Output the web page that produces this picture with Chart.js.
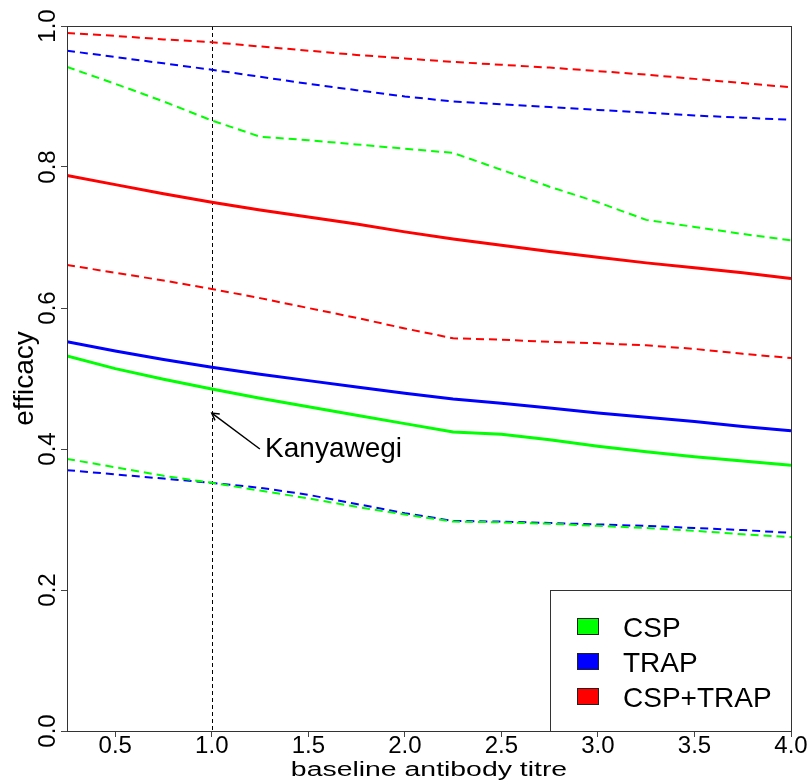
<!DOCTYPE html>
<html><head><meta charset="utf-8">
<script src="https://cdn.jsdelivr.net/npm/chart.js@4.4.1/dist/chart.umd.min.js"></script>
<style>html,body{margin:0;padding:0;background:#fff;} canvas{display:block;}</style>
</head><body>
<canvas id="c" width="808" height="783" style="width:808px;height:783px"></canvas>
<script>
// ---- data ----
const titre = [0.25,0.5,0.75,1.0,1.25,1.5,1.75,2.0,2.25,2.5,2.75,3.0,3.25,3.5,3.75,4.0];

const cspMean  = [0.532,0.514,0.499,0.485,0.472,0.460,0.448,0.436,0.424,0.421,0.413,0.404,0.396,0.389,0.383,0.377];
const cspUpper = [0.942,0.918,0.893,0.866,0.843,0.838,0.832,0.826,0.820,0.796,0.772,0.750,0.725,0.715,0.705,0.696];
const cspLower = [0.386,0.374,0.362,0.352,0.341,0.330,0.318,0.307,0.297,0.296,0.294,0.291,0.288,0.284,0.279,0.275];

const trapMean  = [0.552,0.539,0.527,0.516,0.506,0.497,0.488,0.479,0.471,0.465,0.458,0.451,0.445,0.439,0.432,0.426];
const trapUpper = [0.965,0.956,0.947,0.938,0.928,0.918,0.909,0.900,0.893,0.889,0.885,0.881,0.877,0.873,0.870,0.867];
const trapLower = [0.370,0.364,0.358,0.352,0.345,0.335,0.322,0.309,0.298,0.297,0.295,0.293,0.291,0.288,0.285,0.281];

const bothMean  = [0.788,0.775,0.762,0.750,0.739,0.729,0.719,0.708,0.698,0.689,0.680,0.672,0.664,0.657,0.650,0.642];
const bothUpper = [0.990,0.986,0.981,0.977,0.971,0.965,0.959,0.954,0.949,0.945,0.941,0.936,0.931,0.925,0.919,0.913];
const bothLower = [0.661,0.650,0.639,0.627,0.614,0.600,0.586,0.571,0.557,0.555,0.552,0.550,0.547,0.542,0.535,0.529];

const seriesNames = ['CSP','TRAP','CSP+TRAP'];
const xTicks = [0.5,1.0,1.5,2.0,2.5,3.0,3.5,4.0];
const xTickLabels = ['0.5','1.0','1.5','2.0','2.5','3.0','3.5','4.0'];
const yTicks = [0.0,0.2,0.4,0.6,0.8,1.0];
const yTickLabels = ['0.0','0.2','0.4','0.6','0.8','1.0'];
const xTitle = 'baseline antibody titre';
const yTitle = 'efficacy';
const markerX = 1.0;
const markerLabel = 'Kanyawegi';
const arrowTip = [1.0, 0.451];
const arrowTail = [1.249, 0.400];
const labelPos = [1.276, 0.389];

// ---- styles ----
const GREEN = '#00FF00', BLUE = '#0000FF', RED = '#FF0000';
const colors = [GREEN, BLUE, RED];
const FONT = '"Liberation Sans", Arial, Helvetica, sans-serif';

function pts(ys){ return titre.map((x,i)=>({x:x, y:ys[i]})); }
function solid(label, ys, c){ return {label, data: pts(ys), borderColor:c, backgroundColor:c, borderWidth:3, pointRadius:0, fill:false, tension:0}; }
function dashed(label, ys, c){ return {label, data: pts(ys), borderColor:c, backgroundColor:c, borderWidth:2, borderDash:[8,5], pointRadius:0, fill:false, tension:0}; }

const datasets = [
  dashed('CSP upper', cspUpper, GREEN),
  dashed('CSP lower', cspLower, GREEN),
  dashed('TRAP upper', trapUpper, BLUE),
  dashed('TRAP lower', trapLower, BLUE),
  dashed('CSP+TRAP upper', bothUpper, RED),
  dashed('CSP+TRAP lower', bothLower, RED),
  solid('CSP', cspMean, GREEN),
  solid('TRAP', trapMean, BLUE),
  solid('CSP+TRAP', bothMean, RED)
];

const decor = {
  id: 'decor',
  beforeDatasetsDraw(chart){
    const {ctx, chartArea:a, scales:{x}} = chart;
    const px = Math.round(x.getPixelForValue(markerX)) + 0.5;
    ctx.save();
    ctx.strokeStyle = '#000'; ctx.lineWidth = 1; ctx.setLineDash([4,3]);
    ctx.beginPath(); ctx.moveTo(px, a.top); ctx.lineTo(px, a.bottom); ctx.stroke();
    ctx.restore();
  },
  afterDraw(chart){
    const {ctx, chartArea:a, scales:{x, y}} = chart;
    ctx.save();
    // frame
    ctx.strokeStyle = '#333'; ctx.lineWidth = 1; ctx.setLineDash([]);
    ctx.strokeRect(a.left + 0.5, a.top + 0.5, a.right - a.left, a.bottom - a.top);

    // x tick labels
    ctx.fillStyle = '#000';
    ctx.font = '24px ' + FONT;
    ctx.textAlign = 'center'; ctx.textBaseline = 'alphabetic';
    xTicks.forEach((v,i)=>{ ctx.fillText(xTickLabels[i], x.getPixelForValue(v), a.bottom + 22); });
    // y tick labels (rotated)
    yTicks.forEach((v,i)=>{
      ctx.save();
      ctx.translate(a.left - 12, y.getPixelForValue(v));
      ctx.rotate(-Math.PI/2);
      ctx.fillText(yTickLabels[i], 0, 0);
      ctx.restore();
    });
    // x title (horizontally stretched like the reference)
    ctx.save();
    ctx.font = '20px ' + FONT;
    ctx.translate((a.left + a.right)/2, a.bottom + 45);
    ctx.scale(1.42, 1);
    ctx.fillText(xTitle, 0, 0);
    ctx.restore();
    // y title
    ctx.save();
    ctx.font = '28px ' + FONT;
    ctx.translate(a.left - 34, (a.top + a.bottom)/2);
    ctx.rotate(-Math.PI/2);
    ctx.fillText(yTitle, 0, 0);
    ctx.restore();

    // annotation
    const tx = x.getPixelForValue(arrowTip[0]), ty = y.getPixelForValue(arrowTip[1]);
    const sx = x.getPixelForValue(arrowTail[0]), sy = y.getPixelForValue(arrowTail[1]);
    ctx.strokeStyle = '#000'; ctx.lineWidth = 1.5;
    ctx.beginPath(); ctx.moveTo(sx, sy); ctx.lineTo(tx, ty); ctx.stroke();
    const ang = Math.atan2(sy - ty, sx - tx), L = 8, w = Math.PI/6;
    ctx.beginPath();
    ctx.moveTo(tx + L*Math.cos(ang + w), ty + L*Math.sin(ang + w));
    ctx.lineTo(tx, ty);
    ctx.lineTo(tx + L*Math.cos(ang - w), ty + L*Math.sin(ang - w));
    ctx.stroke();
    ctx.font = '28px ' + FONT; ctx.textAlign = 'left'; ctx.textBaseline = 'alphabetic';
    ctx.fillText(markerLabel, x.getPixelForValue(labelPos[0]), y.getPixelForValue(labelPos[1]));

    // legend
    const bw = 241, bh = 141;
    const bx = a.right - bw, by = a.bottom - bh;
    ctx.fillStyle = '#fff';
    ctx.fillRect(bx, by, bw, bh);
    ctx.strokeStyle = '#333'; ctx.lineWidth = 1;
    ctx.strokeRect(bx + 0.5, by + 0.5, bw, bh);
    ctx.font = '28px ' + FONT;
    seriesNames.forEach((name, i)=>{
      const ry = by + 28 + i*35;
      ctx.fillStyle = colors[i];
      ctx.fillRect(bx + 27, ry, 21, 16);
      ctx.strokeStyle = '#222';
      ctx.strokeRect(bx + 27.5, ry + 0.5, 21, 16);
      ctx.fillStyle = '#000';
      ctx.fillText(name, bx + 73, ry + 19);
    });
    ctx.restore();
  }
};

new Chart(document.getElementById('c'), {
  type: 'line',
  data: { datasets },
  options: {
    responsive: false,
    animation: false,
    devicePixelRatio: 1,
    layout: { padding: { top: 26, right: 17, bottom: 0, left: 0 } },
    plugins: { legend: { display: false }, tooltip: { enabled: false } },
    scales: {
      x: {
        type: 'linear', min: 0.25, max: 4.0,
        afterBuildTicks: s => { s.ticks = xTicks.map(v => ({value: v})); },
        afterFit: s => { s.height = 52; },
        grid: { drawOnChartArea: false, drawTicks: true, tickLength: 6, color: '#444' },
        border: { display: false },
        ticks: { color: 'rgba(0,0,0,0)', autoSkip: false, maxRotation: 0 }
      },
      y: {
        type: 'linear', min: 0, max: 1,
        afterBuildTicks: s => { s.ticks = yTicks.map(v => ({value: v})); },
        afterFit: s => { s.width = 67; },
        grid: { drawOnChartArea: false, drawTicks: true, tickLength: 6, color: '#444' },
        border: { display: false },
        ticks: { color: 'rgba(0,0,0,0)' }
      }
    }
  },
  plugins: [decor]
});
</script>
</body></html>
